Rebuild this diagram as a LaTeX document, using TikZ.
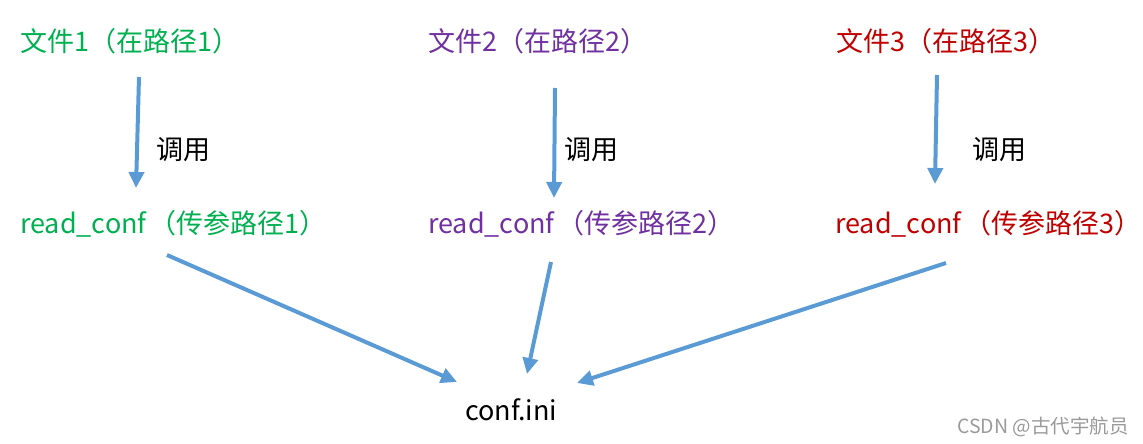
\documentclass[tikz,border=0pt]{standalone}
\usepackage{fontspec}
\setmainfont{Noto Sans CJK SC}
\usetikzlibrary{arrows.meta}
\definecolor{cgreen}{HTML}{00B050}
\definecolor{cpurple}{HTML}{7030A0}
\definecolor{cred}{HTML}{C00000}
\definecolor{cblue}{HTML}{5B9BD5}
\definecolor{cgray}{HTML}{9A9A9A}
\tikzset{
  lbl/.style={anchor=west, inner sep=0pt, font=\fontsize{27}{30}\selectfont},
  call/.style={lbl, text=black},
  conn/.style={draw=cblue, line width=4pt, -{Triangle[length=16pt,width=15pt]}},
}
\begin{document}
\begin{tikzpicture}[x=1pt,y=-1pt]
\useasboundingbox (0,0) rectangle (1143,444);
% file nodes
\node[lbl, text=cgreen]  (f1) at (20,41) {文件1（在路径1）};
\node[lbl, text=cpurple] (f2) at (428,41) {文件2（在路径2）};
\node[lbl, text=cred]    (f3) at (836,41) {文件3（在路径3）};
% call labels
\node[call] (c1) at (156,150) {调用};
\node[call] (c2) at (564,150) {调用};
\node[call] (c3) at (972,150) {调用};
% read_conf nodes
\node[lbl, text=cgreen]  (r1) at (20,224) {read\_conf\hspace{3pt}（传参路径1）};
\node[lbl, text=cpurple] (r2) at (428,224) {read\_conf\hspace{3pt}（传参路径2）};
\node[lbl, text=cred]    (r3) at (835,224) {read\_conf\hspace{3pt}（传参路径3）};
% target
\node[lbl, text=black] (ini) at (465,410) {conf.ini};
% watermark
\node[anchor=west, inner sep=0pt, text=cgray, font=\fontsize{19.5}{22}\selectfont] (wm) at (957,427) {CSDN @古代宇航员};
% connector endpoints
\coordinate (a1s) at (139,77);  \coordinate (a1e) at (136,188);
\coordinate (a2s) at (555,88);  \coordinate (a2e) at (554,198);
\coordinate (a3s) at (937,75);  \coordinate (a3e) at (935,184);
\coordinate (b1s) at (167,255); \coordinate (b1e) at (457,382);
\coordinate (b2s) at (551,262); \coordinate (b2e) at (527,374);
\coordinate (b3s) at (946,263); \coordinate (b3e) at (577,383);
\draw[conn] (a1s) -- (a1e);
\draw[conn] (a2s) -- (a2e);
\draw[conn] (a3s) -- (a3e);
\draw[conn] (b1s) -- (b1e);
\draw[conn] (b2s) -- (b2e);
\draw[conn] (b3s) -- (b3e);
\end{tikzpicture}
\end{document}
